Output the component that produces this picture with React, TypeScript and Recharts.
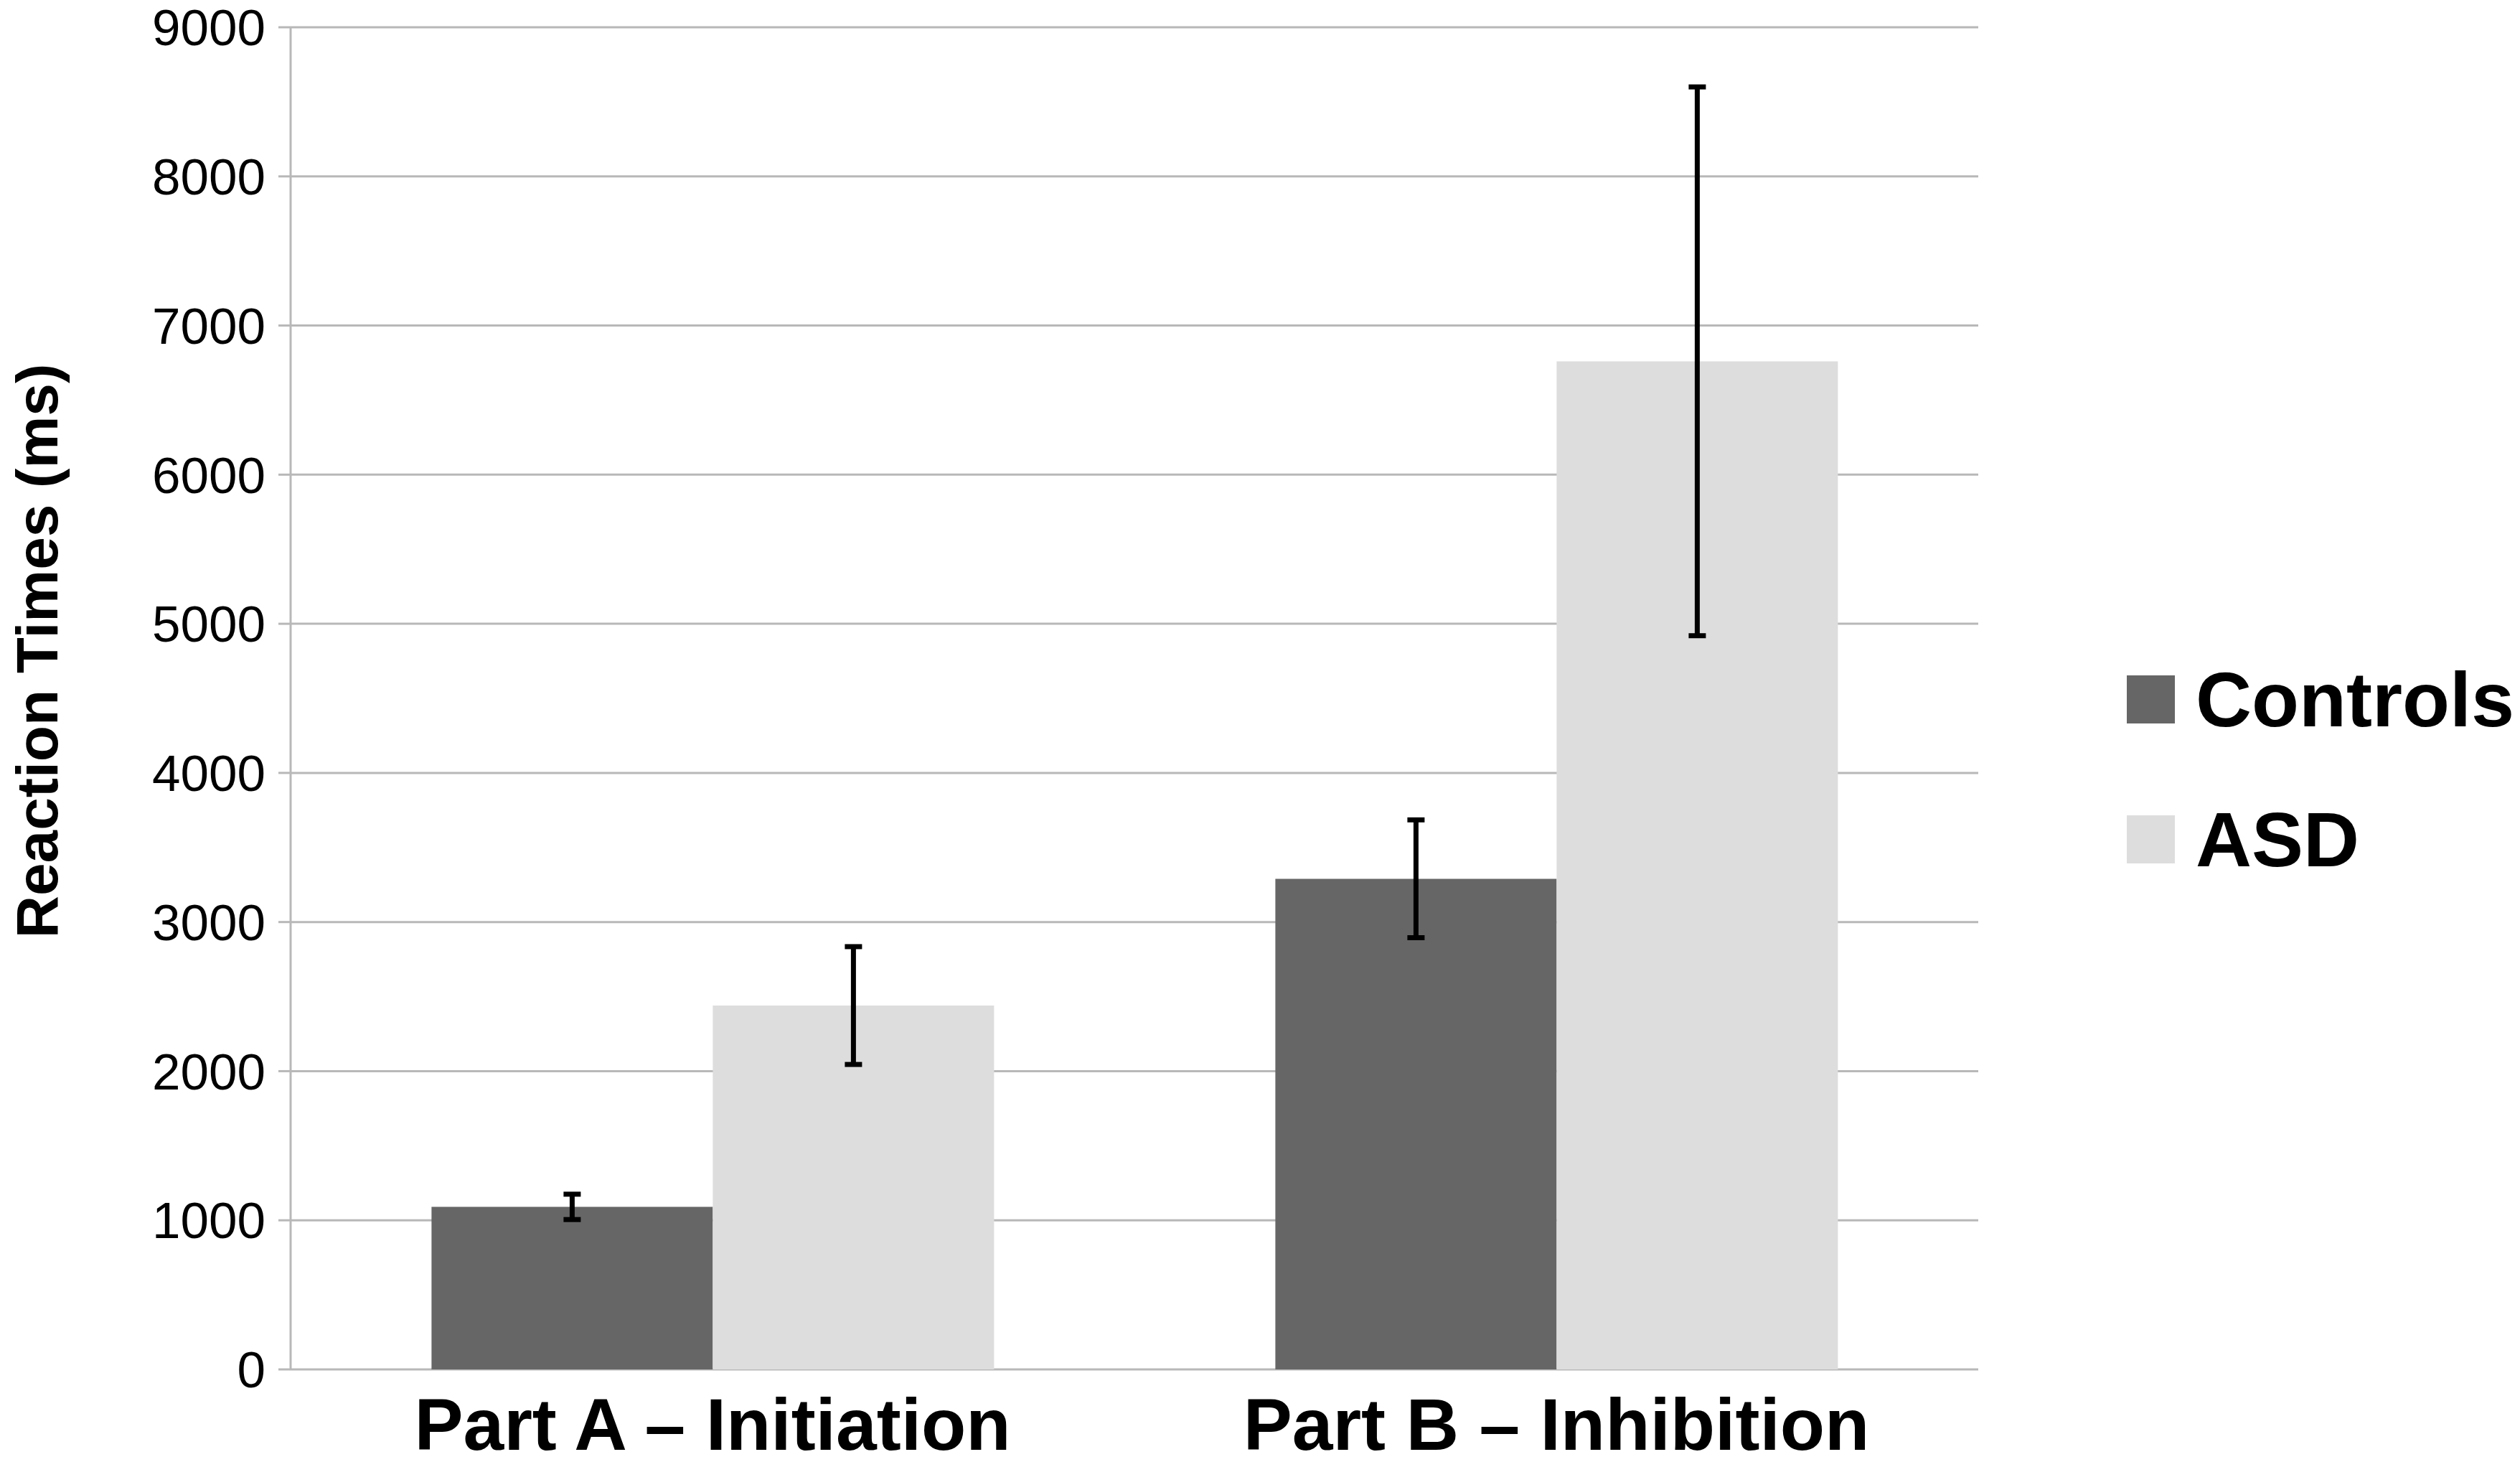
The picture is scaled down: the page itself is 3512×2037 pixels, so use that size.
import { BarChart, Bar, XAxis, YAxis, CartesianGrid, ErrorBar, Legend, ReferenceLine } from 'recharts'

const categories = ['Part A – Initiation', 'Part B – Inhibition']
const seriesNames = ['Controls', 'ASD']
const controls = [1090, 3290]
const controlsErr = [85, 395]
const asd = [2440, 6760]
const asdErr = [395, 1840]
const yTicks = [0, 1000, 2000, 3000, 4000, 5000, 6000, 7000, 8000, 9000]
const boundaryTicks = [0, 1, 2]

const CONTROLS_COLOR = '#666666'
const ASD_COLOR = '#dddddd'
const GRID = '#b8b8b8'
const FONT = '"Liberation Sans", Arial, sans-serif'

const data = categories.map((name, i) => ({
  name,
  controls: controls[i],
  controlsErr: controlsErr[i],
  asd: asd[i],
  asdErr: asdErr[i],
}))

function LegendBox({ payload }: any) {
  // keep the series order (recharts sorts legend items by name)
  const items = [...(payload || [])].sort(
    (a: any, b: any) => seriesNames.indexOf(a.value) - seriesNames.indexOf(b.value)
  )
  return (
    <div style={{ fontFamily: FONT }}>
      {items.map((p: any) => (
        <div key={p.value} style={{ display: 'flex', alignItems: 'center', height: 67, marginBottom: 128 }}>
          <div style={{ width: 67, height: 67, background: p.color }} />
          <span style={{ marginLeft: 29, fontSize: 108, fontWeight: 700, lineHeight: 1, color: '#000' }}>{p.value}</span>
        </div>
      ))}
    </div>
  )
}

function YLabel() {
  return (
    <text
      x={43}
      y={899}
      transform="rotate(-90 43 899)"
      textAnchor="middle"
      dominantBaseline="central"
      style={{ fontFamily: FONT, fontSize: 82, fontWeight: 700, fill: '#000' }}
    >
      Reaction Times (ms)
    </text>
  )
}

export default function App() {
  return (
    <BarChart
      width={3496}
      height={2021}
      data={data}
      margin={{ top: 30, right: 747, bottom: 0, left: 0 }}
      barCategoryGap="16.7%"
      barGap={0}
    >
      <XAxis
        xAxisId="b"
        type="number"
        domain={[0, 2]}
        ticks={boundaryTicks}
        tick={false}
        axisLine={false}
        tickLine={{ stroke: GRID, strokeWidth: 3 }}
        tickSize={18}
        height={0}
      />
      <XAxis
        dataKey="name"
        axisLine={false}
        tickLine={false}
        tickSize={0}
        tickMargin={40}
        height={121}
        tick={{ fontFamily: FONT, fontSize: 102, fontWeight: 700, fill: '#000' }}
      />
      <YAxis
        width={397}
        domain={[0, 9000]}
        ticks={yTicks}
        interval={0}
        axisLine={{ stroke: GRID, strokeWidth: 3 }}
        tickLine={{ stroke: GRID, strokeWidth: 3 }}
        tickSize={17}
        tickMargin={18}
        tick={{ fontFamily: FONT, fontSize: 71, fill: '#000' }}
        label={{ content: () => <YLabel /> }}
      />
      <CartesianGrid vertical={false} stroke={GRID} strokeWidth={3} />
      <ReferenceLine xAxisId="b" x={2} stroke={GRID} strokeWidth={3} />
      <Legend
        layout="horizontal"
        align="center"
        verticalAlign="middle"
        content={<LegendBox />}
        wrapperStyle={{ left: 2956, top: 933, width: 540, height: 'auto' }}
      />
      <Bar dataKey="controls" name="Controls" fill={CONTROLS_COLOR} isAnimationActive={false}>
        <ErrorBar dataKey="controlsErr" width={12} strokeWidth={7} stroke="#000" direction="y" />
      </Bar>
      <Bar dataKey="asd" name="ASD" fill={ASD_COLOR} isAnimationActive={false}>
        <ErrorBar dataKey="asdErr" width={12} strokeWidth={7} stroke="#000" direction="y" />
      </Bar>
    </BarChart>
  )
}
